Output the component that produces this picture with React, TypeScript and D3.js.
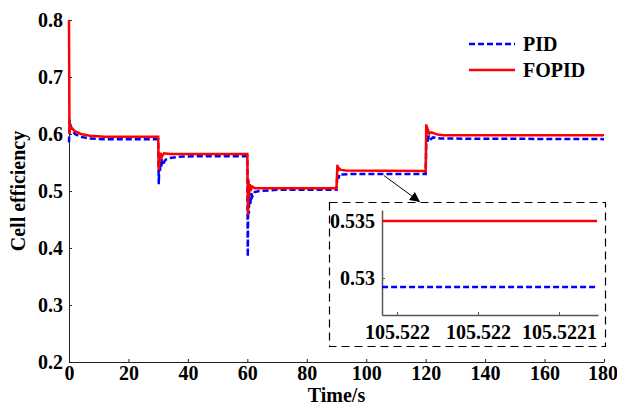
import React, { useRef, useEffect } from 'react';
import * as d3 from 'd3';

// main axes
const timeTicks = [0, 20, 40, 60, 80, 100, 120, 140, 160, 180];
const effTicks = [0.2, 0.3, 0.4, 0.5, 0.6, 0.7, 0.8];

// PID response
const pidTime = [0, 0.2, 0.5, 1, 2, 4, 7, 12, 30,
  30.2, 30.4, 30.6, 30.8, 31, 31.3, 31.7, 32.5, 34, 37, 42, 60,
  60.15, 60.3, 60.5, 60.7, 61, 61.3, 61.7, 62.5, 64, 70, 90,
  90.2, 90.4, 90.7, 91, 92, 95, 120,
  120.2, 120.4, 120.7, 121, 121.5, 122.5, 125, 180];
const pidEff = [0.585, 0.625, 0.615, 0.607, 0.6, 0.595, 0.592, 0.591, 0.591,
  0.512, 0.55, 0.535, 0.552, 0.54, 0.553, 0.548, 0.555, 0.558, 0.56, 0.561, 0.561,
  0.385, 0.49, 0.46, 0.495, 0.475, 0.496, 0.49, 0.498, 0.5, 0.502, 0.502,
  0.52, 0.528, 0.522, 0.53, 0.529, 0.53, 0.53,
  0.582, 0.6, 0.585, 0.597, 0.59, 0.594, 0.592, 0.591];

// FOPID response
const fopidTime = [0, 0.15, 0.3, 1, 2, 4, 7, 12, 30,
  30.2, 30.4, 30.6, 30.8, 31.2, 32, 34, 60,
  60.2, 60.4, 60.6, 60.8, 61.1, 61.5, 62.5, 90,
  90.3, 90.5, 90.8, 91.5, 93, 120,
  120.2, 120.4, 120.7, 121.2, 122, 124, 126, 180];
const fopidEff = [0.8, 0.6, 0.615, 0.61, 0.605, 0.6, 0.597, 0.595, 0.595,
  0.537, 0.565, 0.55, 0.567, 0.56, 0.566, 0.565, 0.565,
  0.458, 0.52, 0.49, 0.512, 0.5, 0.508, 0.505, 0.505,
  0.546, 0.535, 0.54, 0.537, 0.536, 0.535,
  0.617, 0.6, 0.608, 0.601, 0.603, 0.599, 0.598, 0.598];

// zoomed inset around t = 105.522 s
const zoomTime = [105.5219408, 105.5220735];
const zoomPid = [0.5292, 0.5292];
const zoomFopid = [0.535, 0.535];
const zoomTimeTicks = [105.52195, 105.522, 105.52205];
const zoomTimeLabels = ['105.522', '105.522', '105.5221'];
const zoomEffTicks = [0.53, 0.535];
const arrowFrom = [106, 0.527];

const series = [
  { name: 'PID', t: pidTime, v: pidEff, zt: zoomTime, zv: zoomPid, color: '#0000ff', dash: '6,3' },
  { name: 'FOPID', t: fopidTime, v: fopidEff, zt: zoomTime, zv: zoomFopid, color: '#ff0000', dash: null },
];

const FONT = "'Liberation Serif', 'Times New Roman', serif";

const boldText = (sel: any) =>
  sel.style('font-family', FONT).style('font-size', '20px').style('font-weight', 'bold').attr('fill', '#000');

const App = () => {
  const svgRef = useRef<SVGSVGElement>(null);

  useEffect(() => {
    const svg = d3.select(svgRef.current);
    svg.selectAll('*').remove();

    const width = 617;
    const height = 407;
    svg.attr('width', width).attr('height', height);

    const x = d3.scaleLinear().domain([0, 180]).range([69, 604]);
    const y = d3.scaleLinear().domain([0.2, 0.8]).range([362, 20]);

    const styleAxis = (g: any, col: string, sw: number) => {
      g.call(boldText);
      g.selectAll('text').call(boldText);
      g.selectAll('line').attr('stroke', col);
      g.select('.domain').attr('stroke', col).attr('stroke-width', sw);
    };

    const xAxisG = svg.append('g')
      .attr('transform', `translate(0, ${y(0.2)})`)
      .call(d3.axisBottom(x).tickValues(timeTicks).tickFormat(d3.format('d')).tickSize(-3).tickSizeOuter(0).tickPadding(4))
      .call(styleAxis, '#222', 1);
    xAxisG.selectAll('text').filter((d: any) => d === 180).attr('dx', -1.5);

    svg.append('g')
      .attr('transform', `translate(${x(0)}, 0)`)
      .call(d3.axisLeft(y).tickValues(effTicks).tickFormat(d3.format('.1f')).tickSize(-3).tickSizeOuter(0).tickPadding(6))
      .call(styleAxis, '#222', 1);

    // lines
    series.forEach(s => {
      const line = d3.line<number>().x((d, i) => x(s.t[i])).y(d => y(d));
      svg.append('path')
        .datum(s.v)
        .attr('fill', 'none')
        .attr('stroke', s.color)
        .attr('stroke-width', 2.5)
        .attr('stroke-dasharray', s.dash)
        .attr('d', line);
    });

    // axis labels
    svg.append('text')
      .attr('x', (x(0) + x(180)) / 2)
      .attr('y', 402)
      .attr('text-anchor', 'middle')
      .call(boldText)
      .text('Time/s');

    svg.append('text')
      .attr('transform', `translate(25, ${(y(0.2) + y(0.8)) / 2}) rotate(-90)`)
      .attr('text-anchor', 'middle')
      .call(boldText)
      .text('Cell efficiency');

    // legend
    const legend = svg.append('g').attr('transform', 'translate(469, 44)');
    series.forEach((s, i) => {
      legend.append('line')
        .attr('x1', 0).attr('x2', 46)
        .attr('y1', i * 26).attr('y2', i * 26)
        .attr('stroke', s.color)
        .attr('stroke-width', 2.5)
        .attr('stroke-dasharray', s.dash);
      legend.append('text')
        .attr('x', 54).attr('y', i * 26 + 7)
        .call(boldText)
        .text(s.name);
    });

    // arrow to inset
    svg.append('defs').append('marker')
      .attr('id', 'arrowhead')
      .attr('viewBox', '0 0 10 10')
      .attr('refX', 10).attr('refY', 5)
      .attr('markerWidth', 12).attr('markerHeight', 10)
      .attr('markerUnits', 'userSpaceOnUse')
      .attr('orient', 'auto')
      .append('path')
      .attr('d', 'M0,0 L10,5 L0,10 Z')
      .attr('fill', '#000');

    svg.append('line')
      .attr('x1', x(arrowFrom[0])).attr('y1', y(arrowFrom[1]))
      .attr('x2', 420).attr('y2', 202)
      .attr('stroke', '#000')
      .attr('stroke-width', 1)
      .attr('marker-end', 'url(#arrowhead)');

    // inset
    svg.append('rect')
      .attr('x', 329.5).attr('y', 202.5)
      .attr('width', 276).attr('height', 144)
      .attr('fill', '#fff')
      .attr('stroke', '#000')
      .attr('stroke-width', 1.2)
      .attr('stroke-dasharray', '8,5');

    const zx = d3.scaleLinear().domain([105.52194075, 105.52207408]).range([382, 598]);
    const zy = d3.scaleLinear().domain([0.52675, 0.53596]).range([315, 210]);

    svg.append('g')
      .attr('transform', 'translate(0, 315)')
      .call(d3.axisBottom(zx).tickValues(zoomTimeTicks).tickFormat((d, i) => zoomTimeLabels[i]).tickSize(-3).tickSizeOuter(0).tickPadding(10))
      .call(styleAxis, '#555', 1.5);

    svg.append('g')
      .attr('transform', 'translate(382, 0)')
      .call(d3.axisLeft(zy).tickValues(zoomEffTicks).tickFormat(d3.format('.3~f')).tickSize(-3).tickSizeOuter(0).tickPadding(7))
      .call(styleAxis, '#555', 1.5);

    series.forEach(s => {
      const line = d3.line<number>().x((d, i) => zx(s.zt[i])).y(d => zy(d));
      svg.append('path')
        .datum(s.zv)
        .attr('fill', 'none')
        .attr('stroke', s.color)
        .attr('stroke-width', 2.5)
        .attr('stroke-dasharray', s.dash)
        .attr('d', line);
    });
  }, []);

  return (
    <div style={{ position: 'absolute', left: 0, top: 0 }}>
      <svg ref={svgRef} style={{ display: 'block', background: '#fff' }}></svg>
    </div>
  );
};

export default App;
